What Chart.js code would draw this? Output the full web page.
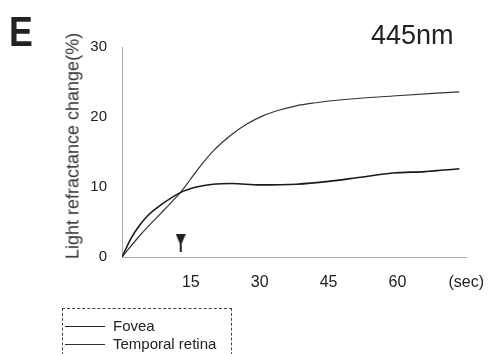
<!DOCTYPE html>
<html>
<head>
    <meta charset="UTF-8">
    <script src="https://cdn.jsdelivr.net/npm/chart.js"></script>
    <style>
        body { margin: 0; background: #fff; }
        .wrap { position: relative; width: 492px; height: 354px; overflow: hidden; font-family: "Liberation Sans", Arial, sans-serif; }
        canvas { position: absolute; left: 0; top: 0; }
        .panel { position: absolute; left: 9px; top: 8px; font-size: 42px; font-weight: bold; color: #222; transform: scaleX(0.85); transform-origin: left top; }
        .wave { position: absolute; left: 371px; top: 20px; font-size: 27px; color: #222; }
        .ytitle { position: absolute; left: 73px; top: 146px; font-size: 18px; color: #333; white-space: nowrap;
                  transform: translate(-50%, -50%) rotate(-90deg); }
        .legend { position: absolute; left: 62px; top: 308px; width: 168px; height: 60px; border: 1px dashed #444; font-size: 15px; color: #222; }
        .legend .row { position: absolute; left: 0; height: 18px; line-height: 18px; }
        .legend .ln { position: absolute; left: 2px; top: 9px; width: 40px; border-top: 1.5px solid #222; }
        .legend .tx { position: absolute; left: 50px; top: 0; white-space: nowrap; }
    </style>
</head>
<body>
<div class="wrap">
    <canvas id="chart" width="492" height="354"></canvas>
    <div class="panel">E</div>
    <div class="wave">445nm</div>
    <div class="ytitle">Light refractance change(%)</div>
    <div class="legend">
        <div class="row" style="top: 8px;"><div class="ln"></div><div class="tx">Fovea</div></div>
        <div class="row" style="top: 26px;"><div class="ln" style="border-top: 1px solid #333;"></div><div class="tx">Temporal retina</div></div>
    </div>
</div>
<script>
    // 讀圖數據 (秒, %)
    const foveaT = [0, 2, 3.8, 5.6, 8.4, 12.7, 16.2, 19.8, 24, 30, 38, 45, 52, 59, 66, 73.5];
    const foveaV = [0, 2.7, 4.5, 5.9, 7.4, 9.2, 10.0, 10.4, 10.5, 10.3, 10.4, 10.8, 11.4, 12.0, 12.2, 12.6];
    const temporalT = [0, 3.8, 5.6, 8.4, 10.6, 12.7, 14.8, 16.6, 20.1, 23.7, 27.2, 30.8, 34.3, 37.9, 41.8, 48.5, 59, 73.5];
    const temporalV = [0, 3.0, 4.3, 6.2, 7.7, 9.2, 11.0, 12.6, 15.3, 17.4, 19.0, 20.2, 21.0, 21.6, 22.0, 22.5, 23.0, 23.6];
    const arrowT = [12.8];
    const arrowV = [2.0];
    const xTicks = [15, 30, 45, 60, 75];
    const yTicks = [0, 10, 20, 30];

    // 箭頭符號
    const arrow = document.createElement('canvas');
    arrow.width = 10; arrow.height = 18;
    const a = arrow.getContext('2d');
    a.fillStyle = '#222';
    a.beginPath();
    a.moveTo(0, 0); a.lineTo(10, 0); a.lineTo(5, 12); a.closePath(); a.fill();
    a.fillRect(4, 8, 2, 10);

    const toXY = (ts, vs) => ts.map((t, i) => ({ x: t, y: vs[i] }));

    new Chart(document.getElementById('chart'), {
        type: 'line',
        data: {
            datasets: [
                {
                    label: 'Fovea',
                    data: toXY(foveaT, foveaV),
                    borderColor: '#1a1a1a',
                    borderWidth: 1.6,
                    pointRadius: 0,
                    cubicInterpolationMode: 'monotone'
                },
                {
                    label: 'Temporal retina',
                    data: toXY(temporalT, temporalV),
                    borderColor: '#333',
                    borderWidth: 1.2,
                    pointRadius: 0,
                    cubicInterpolationMode: 'monotone'
                },
                {
                    label: 'stim',
                    data: toXY(arrowT, arrowV),
                    showLine: false,
                    pointStyle: arrow,
                    pointRadius: 9
                }
            ]
        },
        options: {
            responsive: false,
            animation: false,
            layout: { padding: { left: 0, top: 47, right: 18, bottom: 0 } },
            plugins: { legend: { display: false }, tooltip: { enabled: false } },
            scales: {
                x: {
                    type: 'linear',
                    min: 0,
                    max: 75,
                    afterFit: s => { s.height = 97; },
                    afterBuildTicks: s => { s.ticks = xTicks.map(v => ({ value: v })); },
                    grid: { display: false },
                    border: { display: true, color: '#aaa', width: 1, dash: [1, 2] },
                    ticks: {
                        padding: 8,
                        color: '#222',
                        font: { family: 'Liberation Sans', size: 16 },
                        callback: v => v === 75 ? '(sec)' : v
                    }
                },
                y: {
                    min: 0,
                    max: 30,
                    afterFit: s => { s.width = 122; },
                    afterBuildTicks: s => { s.ticks = yTicks.map(v => ({ value: v })); },
                    grid: { display: false },
                    border: { display: true, color: '#aaa', width: 1, dash: [1, 2] },
                    ticks: {
                        padding: 7,
                        color: '#222',
                        font: { family: 'Liberation Sans', size: 15 }
                    }
                }
            }
        }
    });
</script>
</body>
</html>
